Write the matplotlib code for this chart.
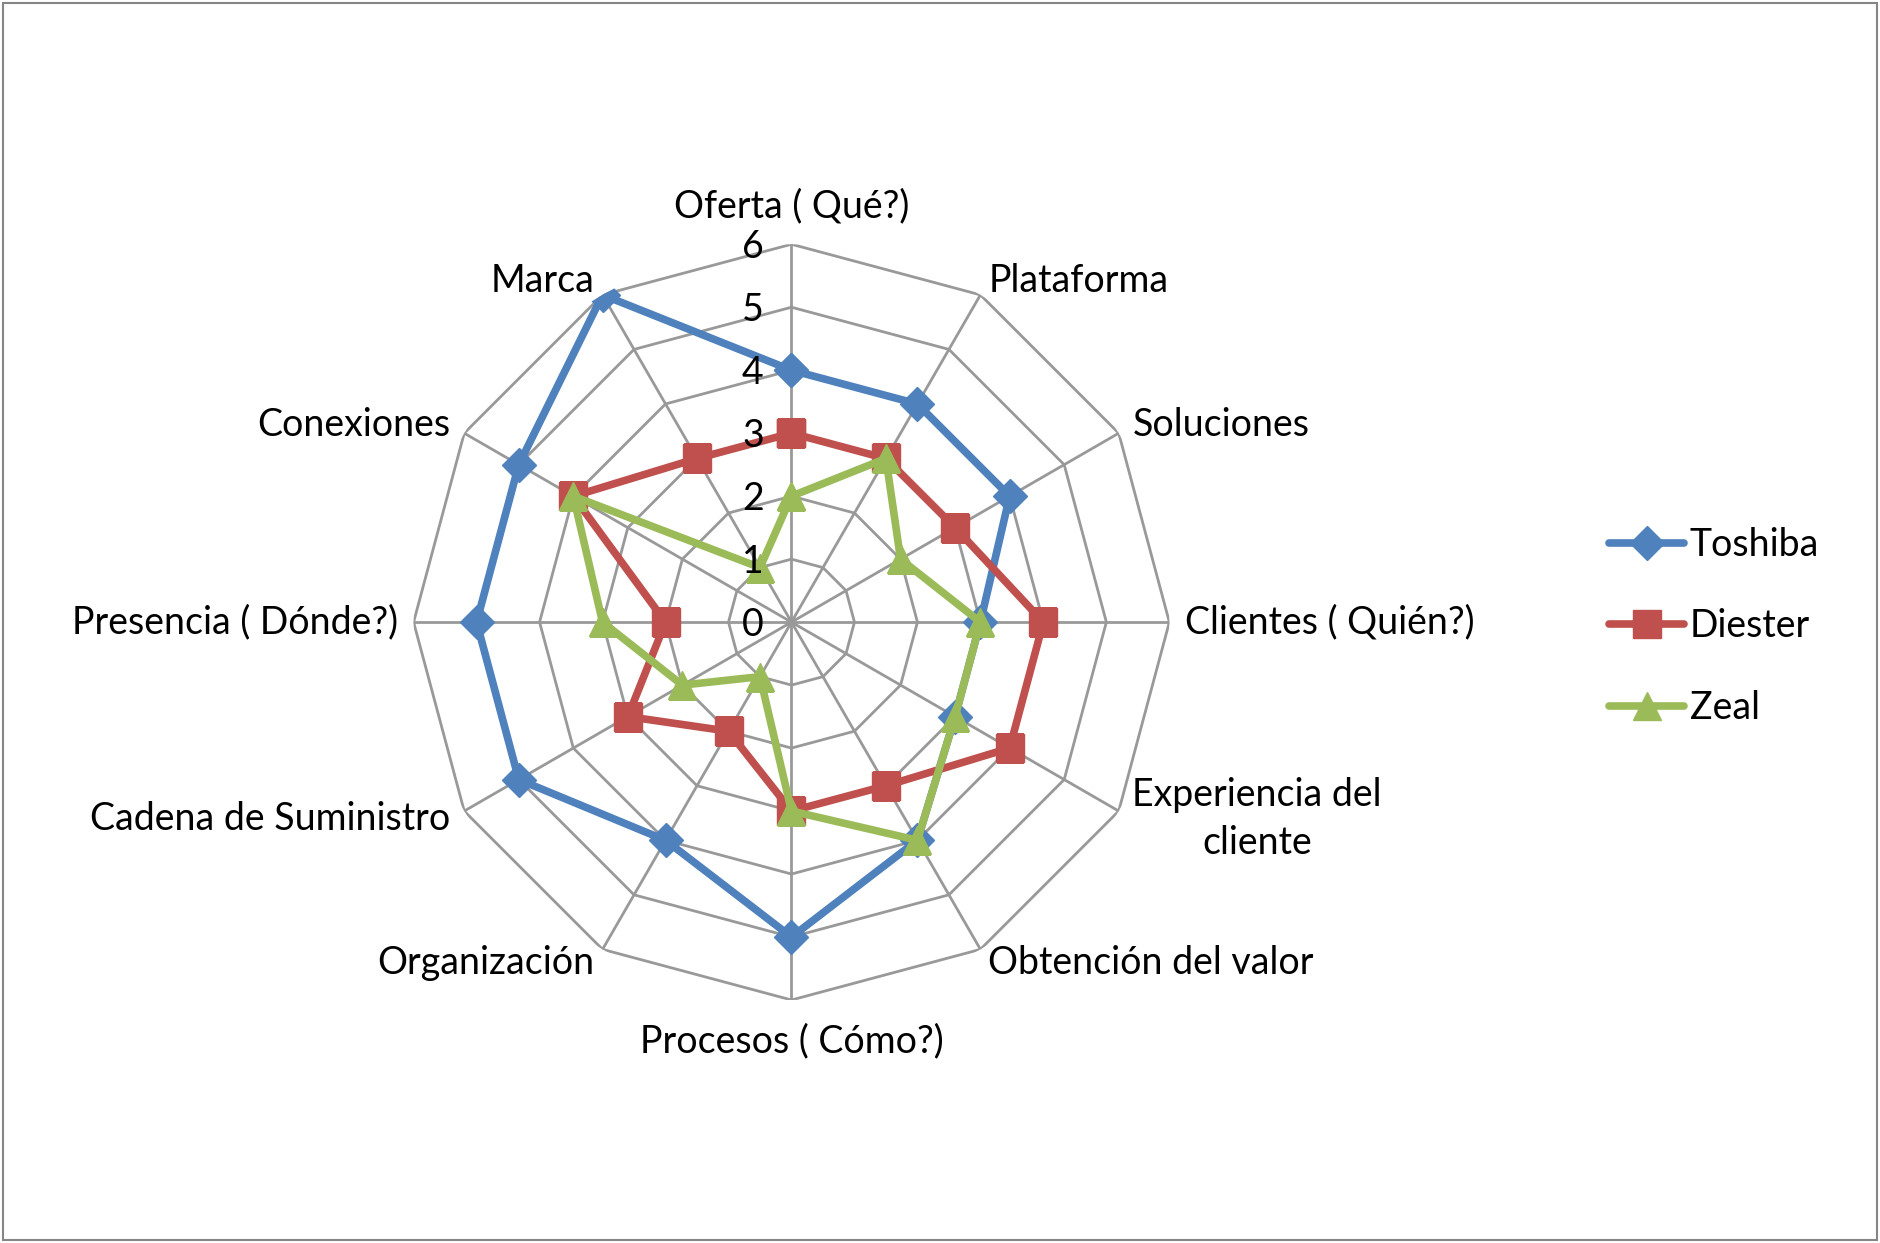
import numpy as np
import matplotlib
matplotlib.use("Agg")
import matplotlib.pyplot as plt
from matplotlib.patches import Rectangle

plt.rcParams['font.family'] = ['Lato', 'DejaVu Sans']

# datos
categorias = ["Oferta ( Qué?)", "Plataforma", "Soluciones", "Clientes ( Quién?)",
              "Experiencia del\ncliente", "Obtención del valor", "Procesos ( Cómo?)",
              "Organización", "Cadena de Suministro", "Presencia ( Dónde?)",
              "Conexiones", "Marca"]
toshiba = [4, 4, 4, 3, 3, 4, 5, 4, 5, 5, 5, 6]
diester = [3, 3, 3, 4, 4, 3, 3, 2, 3, 2, 4, 3]
zeal = [2, 3, 2, 3, 3, 4, 3, 1, 2, 3, 4, 1]
niveles = [0, 1, 2, 3, 4, 5, 6]

series = [("Toshiba", toshiba, "#4F81BD", "D", 17),
          ("Diester", diester, "#C0504D", "s", 20),
          ("Zeal", zeal, "#9BBB59", "^", 20)]

fs = 27
n = len(categorias)
ang = np.arange(n) * 2 * np.pi / n
ang_c = np.append(ang, ang[0])

fig = plt.figure(figsize=(18.8, 12.43), dpi=100)
ax = fig.add_axes([0.220, 0.1955, 0.402, 0.608], projection='polar')
ax.set_theta_zero_location('N')
ax.set_theta_direction(-1)
ax.set_ylim(0, max(niveles))
ax.grid(False)
ax.spines['polar'].set_visible(False)
ax.set_xticks([])
ax.set_yticks([])
ax.patch.set_alpha(0)

grid_col = "#999999"
# rejilla poligonal
for r in niveles[1:]:
    ax.plot(ang_c, [r] * (n + 1), color=grid_col, lw=2.0, zorder=1)
for a in ang:
    ax.plot([a, a], [0, max(niveles)], color=grid_col, lw=2.0, zorder=1)

# etiquetas del eje radial
for r in niveles:
    ax.annotate(str(r), xy=(0, r), xytext=(-20, -2), textcoords='offset points',
                ha='right', va='center', fontsize=fs, zorder=5)

for nombre, vals, col, mk, ms in series:
    v = np.append(vals, vals[0])
    ax.plot(ang_c, v, color=col, lw=5.5, marker=mk, ms=ms, label=nombre,
            solid_capstyle='round', zorder=3)

# etiquetas de categorías
for a, lab in zip(ang, categorias):
    deg = np.degrees(a) % 360
    if deg < 1:
        ax.text(a, 6.6, lab, ha='center', va='center', fontsize=fs)
    elif abs(deg - 180) < 1:
        ax.text(a, 6.66, lab, ha='center', va='center', fontsize=fs)
    elif deg < 180:
        ax.text(a, 6.25, lab, ha='left', va='center', fontsize=fs,
                multialignment='center', linespacing=1.4)
    else:
        ax.text(a, 6.25, lab, ha='right', va='center', fontsize=fs,
                multialignment='center', linespacing=1.4)

fig.legend(loc='center left', bbox_to_anchor=(0.838, 0.496), frameon=False,
           fontsize=fs, handlelength=2.0, handletextpad=0.15, labelspacing=1.22)

fig.patches.append(Rectangle((0.0015, 0.0025), 0.997, 0.995, transform=fig.transFigure,
                             fill=False, edgecolor="#868686", lw=1.5))

fig.savefig("out.png", dpi=100)
